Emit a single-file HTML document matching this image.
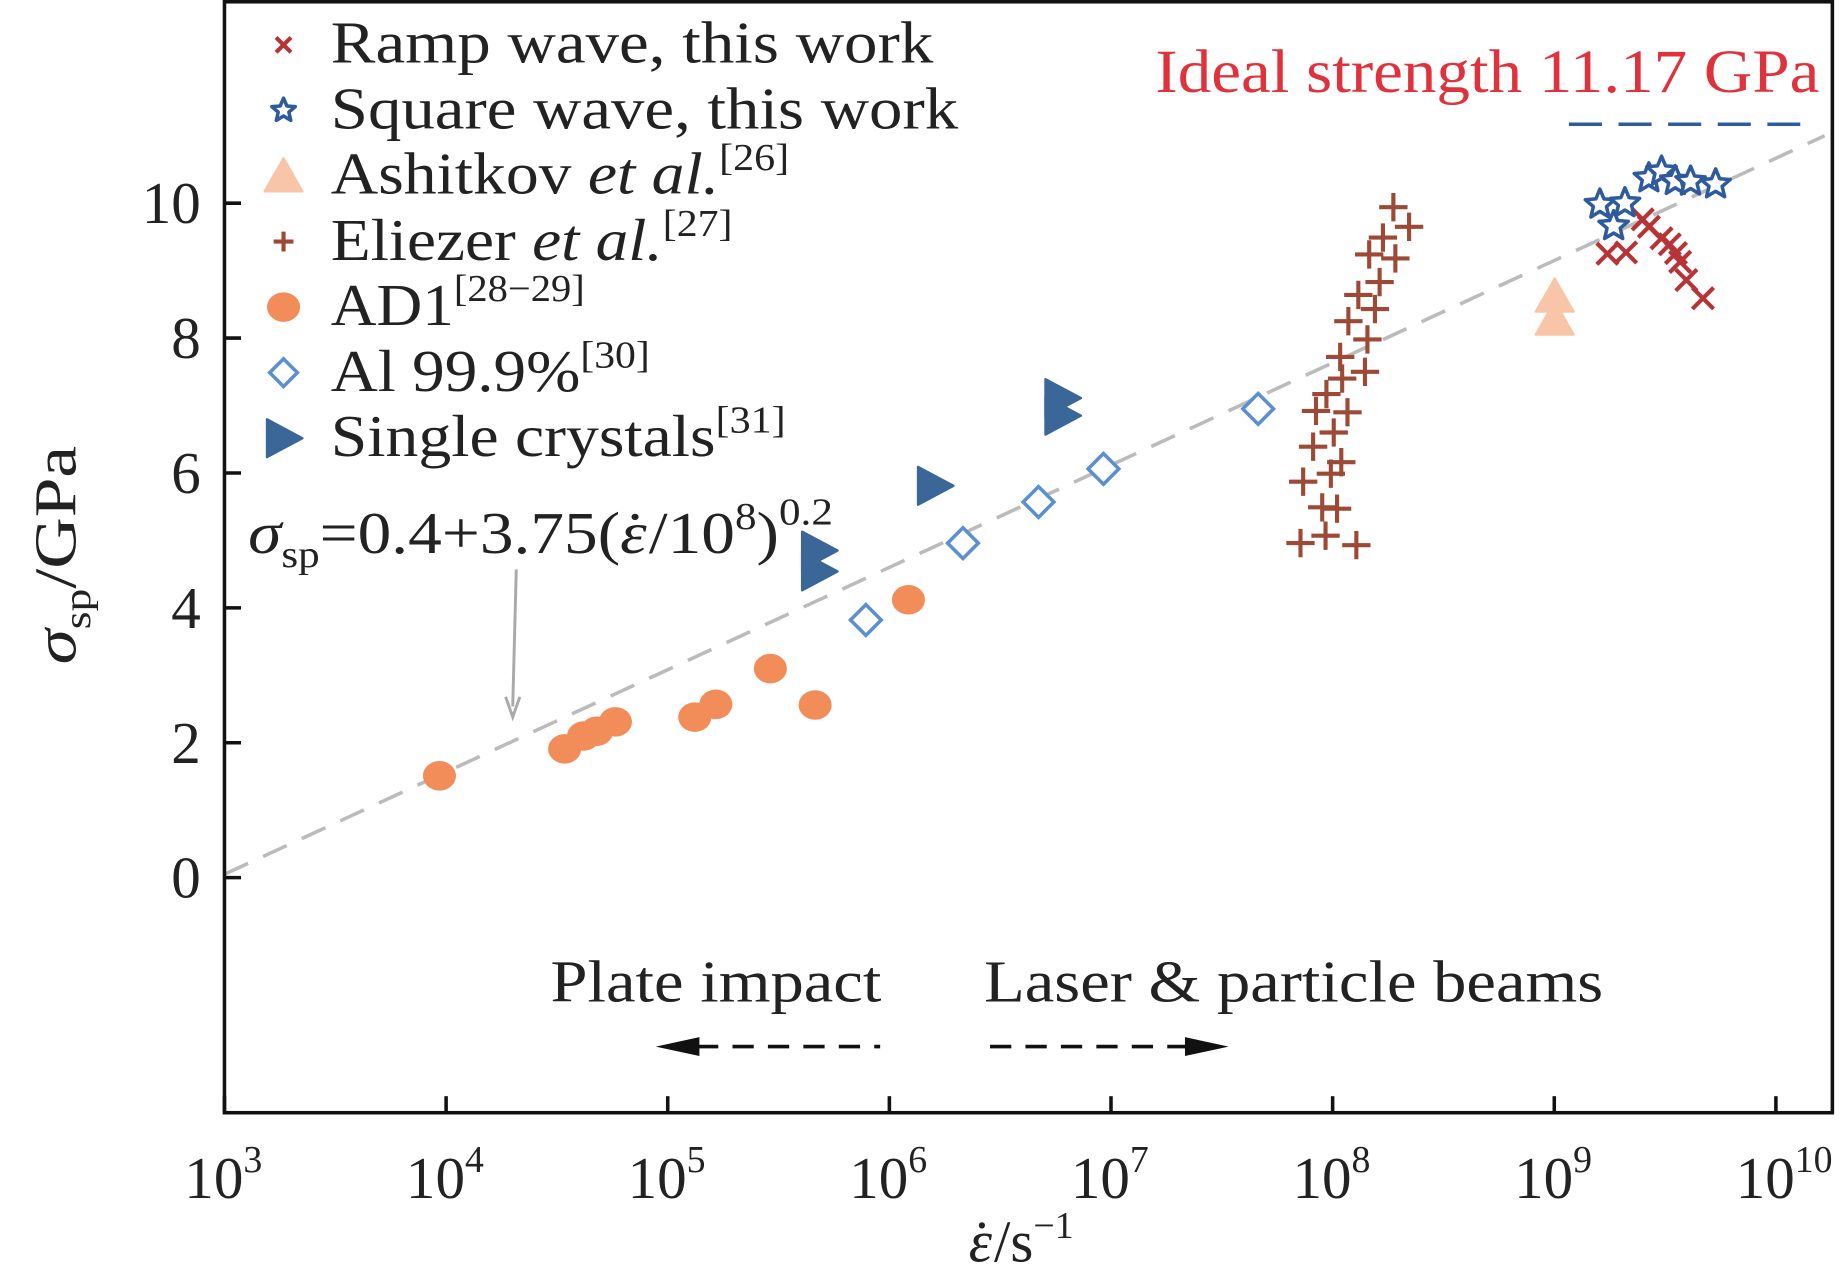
<!DOCTYPE html>
<html><head><meta charset="utf-8"><style>
html,body{margin:0;padding:0;background:#fff;}
svg{display:block;font-family:"Liberation Serif",serif;}
</style></head><body>
<svg id="chart" width="1843" height="1284" viewBox="0 0 1560 1087" preserveAspectRatio="none" xmlns="http://www.w3.org/2000/svg">
<rect x="0" y="0" width="1560" height="1087" fill="#fff"/>
<g id="marks"></g>
<rect x="190" y="1.5" width="1361" height="940.5" fill="none" stroke="#111" stroke-width="3"/>
<g id="axes" fill="#222" font-size="50"></g>
<text transform="translate(64,470) rotate(-90)" text-anchor="middle" font-size="50" fill="#222" textLength="185" lengthAdjust="spacingAndGlyphs"><tspan font-style="italic">σ</tspan><tspan font-size="32" dy="12">sp</tspan><tspan dy="-12">/GPa</tspan></text>
<text x="820" y="1068" font-size="50" fill="#222"><tspan font-style="italic">ε</tspan><tspan dx="-17" font-size="50">˙</tspan><tspan dx="2">/s</tspan><tspan font-size="32" dy="-20">−1</tspan></text>
<g font-size="50" fill="#222">
<text x="280" y="53" textLength="510" lengthAdjust="spacingAndGlyphs">Ramp wave, this work</text>
<text x="280" y="109" textLength="531" lengthAdjust="spacingAndGlyphs">Square wave, this work</text>
<text x="280" y="164" textLength="388" lengthAdjust="spacingAndGlyphs">Ashitkov <tspan font-style="italic">et al.</tspan><tspan font-size="32" dy="-20">[26]</tspan></text>
<text x="280" y="220" textLength="340" lengthAdjust="spacingAndGlyphs">Eliezer <tspan font-style="italic">et al.</tspan><tspan font-size="32" dy="-20">[27]</tspan></text>
<text x="280" y="275" textLength="215" lengthAdjust="spacingAndGlyphs">AD1<tspan font-size="32" dy="-20">[28−29]</tspan></text>
<text x="280" y="331" textLength="270" lengthAdjust="spacingAndGlyphs">Al 99.9%<tspan font-size="32" dy="-20">[30]</tspan></text>
<text x="280" y="386" textLength="385" lengthAdjust="spacingAndGlyphs">Single crystals<tspan font-size="32" dy="-20">[31]</tspan></text>
</g>
<g id="legend-markers"></g>
<text x="978" y="78" font-size="52" fill="#e0323c" textLength="562" lengthAdjust="spacingAndGlyphs">Ideal strength 11.17 GPa</text>
<text x="210" y="468" font-size="50" fill="#222" textLength="495" lengthAdjust="spacingAndGlyphs"><tspan font-style="italic">σ</tspan><tspan font-size="32" dy="12">sp</tspan><tspan dy="-12">=0.4+3.75(</tspan><tspan font-style="italic">ε</tspan><tspan dx="-17">˙</tspan><tspan dx="2">/10</tspan><tspan font-size="32" dy="-20">8</tspan><tspan dy="20">)</tspan><tspan font-size="32" dy="-24">0.2</tspan></text>
<line x1="437" y1="482" x2="434" y2="598" stroke="#aaa" stroke-width="2.5"/>
<path d="M428,590 L434,607 L440,590" fill="none" stroke="#aaa" stroke-width="2.5"/>
<text x="466" y="848" font-size="50" fill="#222" textLength="280" lengthAdjust="spacingAndGlyphs">Plate impact</text>
<text x="833" y="848" font-size="50" fill="#222" textLength="524" lengthAdjust="spacingAndGlyphs">Laser &amp; particle beams</text>
<line x1="590" y1="886" x2="745" y2="886" stroke="#111" stroke-width="3" stroke-dasharray="18,12"/>
<polygon points="555,886 592,878 592,894" fill="#111"/>
<line x1="838" y1="886" x2="1005" y2="886" stroke="#111" stroke-width="3" stroke-dasharray="18,12"/>
<polygon points="1040,886 1003,878 1003,894" fill="#111"/>
</svg>
<script>
// ---- data ----
const xTicks = [3,4,5,6,7,8,9,10];
const yTicks = [0,2,4,6,8,10];
const ad1LogRate = [3.970,4.535,4.620,4.679,4.764,5.122,5.217,5.463,5.665,6.086];
const ad1Stress = [1.51,1.91,2.10,2.17,2.31,2.38,2.57,3.10,2.56,4.12];
const alLogRate = [5.894,6.332,6.673,6.966,7.664];
const alStress = [3.82,4.96,5.57,6.06,6.95];
const crystalLogRate = [5.681,5.681,6.204,6.779,6.779];
const crystalStress = [4.85,4.54,5.81,7.11,6.85];
const ashitkovLogRate = [9.002,9.002];
const ashitkovStress = [8.62,8.28];
const eliezerLogRate = [8.274,8.345,8.227,8.165,8.283,8.212,8.116,8.191,8.071,8.157,8.034,8.146,8.043,7.972,7.925,8.067,8.005,7.912,8.039,7.992,7.867,7.953,8.020,7.855,7.968,8.107];
const eliezerStress = [9.94,9.65,9.49,9.24,9.18,8.83,8.64,8.43,8.25,7.98,7.72,7.50,7.40,7.17,6.92,6.90,6.60,6.39,6.16,5.99,5.87,5.49,5.47,4.96,5.07,4.93];
const squareLogRate = [9.427,9.484,9.546,9.615,9.728,9.206,9.319,9.268];
const squareStress = [10.37,10.47,10.33,10.32,10.28,9.98,10.00,9.66];
const rampLogRate = [9.240,9.324,9.399,9.427,9.484,9.521,9.549,9.568,9.596,9.671];
const rampStress = [9.25,9.27,9.76,9.65,9.48,9.39,9.26,9.13,8.86,8.59];
const fitLogRate = [3.0,10.22];
const fitStress = [0.05,11.0];
const idealStrength = [11.17];
const idealLogRate = [9.066,10.11];

// ---- axes ----
const NS = 'http://www.w3.org/2000/svg';
const X = v => 190 + (v - 3) * 187.6;
const Y = v => 743 - v * 57.1;
const marks = document.getElementById('marks');
const axes = document.getElementById('axes');
const lm = document.getElementById('legend-markers');
function mk(tag, attrs, parent) {
  const e = document.createElementNS(NS, tag);
  for (const k in attrs) e.setAttribute(k, attrs[k]);
  parent.appendChild(e);
  return e;
}
xTicks.forEach(t => {
  const l = mk('line', {x1: X(t), x2: X(t), y1: 942, y2: 928, stroke: '#111', 'stroke-width': 3}, axes);
  
  
  const tx = mk('text', {x: X(t) - 34, y: 1014}, axes);
  
  
  tx.textContent = '10';
  const s = mk('tspan', {'font-size': 32, dy: -22}, tx);
  s.textContent = String(t);
});
yTicks.forEach(t => {
  const l = mk('line', {x1: 190, x2: 204, y1: Y(t), y2: Y(t), stroke: '#111', 'stroke-width': 3}, axes);
  
  
  const tx = mk('text', {x: 170, y: Y(t) + 17, 'text-anchor': 'end'}, axes);
  
  
  tx.textContent = String(t);
});

// ---- lines ----
const fit = mk('line', {x1: X(fitLogRate[0]), y1: Y(fitStress[0]), x2: X(fitLogRate[1]), y2: Y(fitStress[1]), stroke: '#bbb', 'stroke-width': 3, 'stroke-dasharray': '22,14'}, marks);


const ideal = mk('line', {x1: X(idealLogRate[0]), y1: Y(idealStrength[0]), x2: X(idealLogRate[1]), y2: Y(idealStrength[0]), stroke: '#2e5a9e', 'stroke-width': 3, 'stroke-dasharray': '28,14'}, marks);



// ---- marker shapes ----
function starPath(cx, cy, R) {
  const r = R * 0.45; let d = '';
  for (let i = 0; i < 10; i++) {
    const a = -Math.PI / 2 + i * Math.PI / 5, rr = i % 2 ? r : R;
    d += (i ? 'L' : 'M') + (cx + rr * Math.cos(a)).toFixed(1) + ',' + (cy + rr * Math.sin(a)).toFixed(1);
  }
  return d + 'Z';
}
function drawMarker(kind, cx, cy, parent, scale) {
  const s = scale || 1;
  if (kind === 'circle') return mk('ellipse', {cx, cy, rx: 14 * s, ry: 12.5 * s, fill: '#f28d5a'}, parent);
  if (kind === 'diamond') return mk('polygon', {points: `${cx},${cy - 13 * s} ${cx + 13 * s},${cy} ${cx},${cy + 13 * s} ${cx - 13 * s},${cy}`, fill: '#fff', stroke: '#5b8fd0', 'stroke-width': 3}, parent);
  if (kind === 'right') return mk('polygon', {points: `${cx - 14 * s},${cy - 16 * s} ${cx + 16 * s},${cy} ${cx - 14 * s},${cy + 16 * s}`, fill: '#3a6698', stroke: '#3a6698', 'stroke-width': 2, 'stroke-linejoin': 'round'}, parent);
  if (kind === 'up') return mk('polygon', {points: `${cx},${cy - 15 * s} ${cx + 16 * s},${cy + 13 * s} ${cx - 16 * s},${cy + 13 * s}`, fill: '#f8c5a8', stroke: '#f8c5a8', 'stroke-width': 2, 'stroke-linejoin': 'round'}, parent);
  if (kind === 'plus') return mk('path', {d: `M${cx - 12 * s},${cy}H${cx + 12 * s}M${cx},${cy - 12 * s}V${cy + 12 * s}`, stroke: '#9c4a35', 'stroke-width': 3.5}, parent);
  if (kind === 'star') return mk('path', {d: starPath(cx, cy, 13 * s), fill: '#fff', stroke: '#2e5a9e', 'stroke-width': 3, 'stroke-linejoin': 'round'}, parent);
  if (kind === 'x') return mk('path', {d: `M${cx - 9 * s},${cy - 9 * s}L${cx + 9 * s},${cy + 9 * s}M${cx + 9 * s},${cy - 9 * s}L${cx - 9 * s},${cy + 9 * s}`, stroke: '#b83236', 'stroke-width': 3.5}, parent);
}
function series(kind, xs, ys, name) {
  xs.forEach((v, i) => {
    const m = drawMarker(kind, X(v), Y(ys[i]), marks);
    
    
  });
}
series('circle', ad1LogRate, ad1Stress, 'ad1-point');
series('diamond', alLogRate, alStress, 'al999-point');
series('right', crystalLogRate, crystalStress, 'single-crystal-point');
series('up', ashitkovLogRate, ashitkovStress, 'ashitkov-point');
series('plus', eliezerLogRate, eliezerStress, 'eliezer-point');
series('x', rampLogRate, rampStress, 'ramp-wave-point');
series('star', squareLogRate, squareStress, 'square-wave-point');

// legend markers
const legendKinds = ['x', 'star', 'up', 'plus', 'circle', 'diamond', 'right'];
const legendScale = [0.7, 0.8, 1, 0.7, 1, 0.9, 1];
legendKinds.forEach((k, i) => {
  const m = drawMarker(k, 240, 38 + i * 55.5, lm, legendScale[i]);
  
  
});
</script>
</body></html>
